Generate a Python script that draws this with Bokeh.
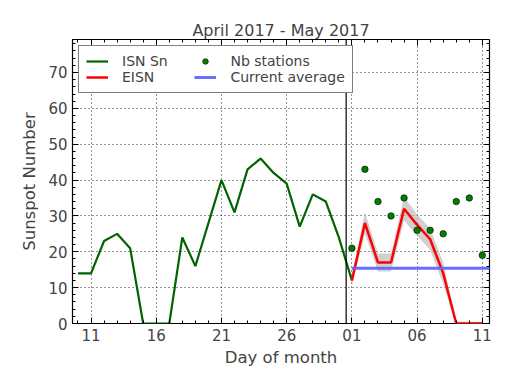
from bokeh.plotting import figure
from bokeh.models import (FixedTicker, LinearAxis, Range1d, Span, Legend, LegendItem, Label)
from bokeh.embed import file_html
from bokeh.resources import INLINE

# ---- data (day index: April d -> d, May d -> 30 + d) ----
isn_days = [10, 11, 12, 13, 14, 15, 16, 17, 18, 19, 20, 21, 22, 23, 24, 25, 26, 27, 28, 29, 30, 31]
isn_vals = [14, 14, 23, 25, 21, 0, 0, 0, 24, 16, 28, 40, 31, 43, 46, 42, 39, 27, 36, 34, 24, 12]

eisn_days = [31, 32, 33, 34, 35, 36, 37, 38, 39, 40, 41]
eisn_vals = [12, 28, 17, 17, 32, 27.5, 23.5, 14, 0, 0, 0]
eisn_err = [1.5, 3, 2.5, 2.5, 3.3, 3, 3, 3, 0.5, 0.5, 0.5]

nb_days = [31, 32, 33, 34, 35, 36, 37, 38, 39, 40, 41]
nb_vals = [21, 43, 34, 30, 35, 26, 26, 25, 34, 35, 19]

avg_days = [31, 41.6]
avg_vals = [15.4, 15.4]

x_ticks = [11, 16, 21, 26, 31, 36, 41]
x_tick_labels = ["11", "16", "21", "26", "01", "06", "11"]
y_ticks = [0, 10, 20, 30, 40, 50, 60, 70]

title_text = "April 2017 - May 2017"
footer_text = "SILSO graphics (http://sidc.be/silso) Royal Observatory of Belgium, 2017 May 11"
month_boundary = 30.56

FONT = "DejaVu Sans"

p = figure(frame_width=417, frame_height=284, output_backend="svg", toolbar_location=None,
           x_range=Range1d(9.58, 41.55), y_range=Range1d(0, 79.2),
           min_border_left=72, min_border_right=24, min_border_top=39, min_border_bottom=62,
           title=title_text)
p.background_fill_color = "white"
p.border_fill_color = "white"
p.outline_line_color = "black"
p.outline_line_width = 1.2

p.title.text_font = FONT
p.title.text_font_size = "16px"
p.title.text_font_style = "normal"
p.title.align = "center"
p.title.offset = 0
p.title.standoff = 0
p.title.text_line_height = 0.9

# grid
p.xgrid.ticker = FixedTicker(ticks=x_ticks)
p.ygrid.ticker = FixedTicker(ticks=y_ticks)
for g in (p.xgrid, p.ygrid):
    g.grid_line_color = "black"
    g.grid_line_dash = "1 3"
    g.grid_line_width = 1
    g.grid_line_alpha = 0.85

xminor = list(range(9, 43))
yminor = list(range(0, 80, 2))

def style_axis(ax, labels=True):
    ax.axis_line_color = None
    ax.major_tick_in = 6
    ax.major_tick_out = 0
    ax.minor_tick_in = 3
    ax.minor_tick_out = 0
    ax.major_tick_line_color = "black"
    ax.minor_tick_line_color = "black"
    ax.major_label_text_font = FONT
    if labels:
        ax.major_label_text_font_size = "15px"
        ax.major_label_standoff = 5
    else:
        ax.major_label_text_font_size = "1px"
        ax.major_label_text_color = None
        ax.major_label_text_alpha = 0
        ax.major_label_standoff = 0
    ax.axis_label_text_font = FONT
    ax.axis_label_text_font_size = "16.5px"
    ax.axis_label_text_font_style = "normal"

xa = p.xaxis[0]
xa.ticker = FixedTicker(ticks=x_ticks, minor_ticks=xminor)
xa.major_label_overrides = dict(zip(x_ticks, x_tick_labels))
xa.axis_label = "Day of month"
style_axis(xa)
xa.axis_label_standoff = 4

ya = p.yaxis[0]
ya.ticker = FixedTicker(ticks=y_ticks, minor_ticks=yminor)
ya.axis_label = "Sunspot Number"
style_axis(ya)
ya.axis_label_standoff = 6

top = LinearAxis(ticker=FixedTicker(ticks=x_ticks, minor_ticks=xminor))
style_axis(top, labels=False)
p.add_layout(top, "above")
right = LinearAxis(ticker=FixedTicker(ticks=y_ticks, minor_ticks=yminor))
style_axis(right, labels=False)
p.add_layout(right, "right")

# EISN error band
lower = [v - e for v, e in zip(eisn_vals, eisn_err)]
upper = [v + e for v, e in zip(eisn_vals, eisn_err)]
p.varea(x=eisn_days, y1=lower, y2=upper, fill_color="#b0b0b0", fill_alpha=0.6)

r_isn = p.line(isn_days, isn_vals, line_color="#006400", line_width=2.2)
r_eisn = p.line(eisn_days, eisn_vals, line_color="#ff0000", line_width=2.5)
r_avg = p.line(avg_days, avg_vals, line_color="#6464ff", line_width=3, line_alpha=0.95)
r_nb = p.scatter(nb_days, nb_vals, size=6.5, fill_color="#008000", line_color="black", line_width=0.6)

p.add_layout(Span(location=month_boundary, dimension="height", line_color="black", line_width=1.2))

legend = Legend(items=[
    LegendItem(label="ISN Sn      ", renderers=[r_isn]),
    LegendItem(label="EISN", renderers=[r_eisn]),
    LegendItem(label="Nb stations", renderers=[r_nb]),
    LegendItem(label="Current average", renderers=[r_avg]),
], location="top_left", ncols=2)
legend.label_text_font = FONT
legend.label_text_font_size = "14px"
legend.label_height = 14
legend.glyph_height = 14
legend.glyph_width = 22
legend.label_standoff = 14
legend.spacing = -5
legend.padding = 7
legend.margin = 6
legend.border_line_color = "black"
legend.border_line_width = 1.2
legend.background_fill_alpha = 1
p.add_layout(legend)

p.add_layout(Label(x=24.06, y=-14.4, text=footer_text, text_font="DejaVu Serif",
                   text_font_size="10.5px", text_align="center", text_baseline="middle",
                   text_color="black"))

open("out.html", "w").write(file_html(p, INLINE))
